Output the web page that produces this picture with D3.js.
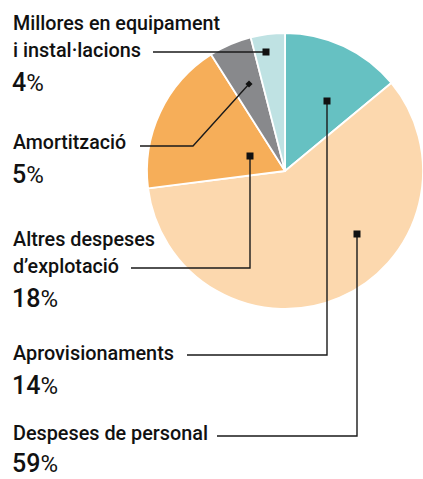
<!DOCTYPE html>
<html>
<head>
<meta charset="utf-8">
<script src="https://cdn.jsdelivr.net/npm/d3@7"></script>
<style>
  body { margin: 0; background: #fff; }
  svg { display: block; }
  text { font-family: Roboto, "Liberation Sans", sans-serif; fill: #111; }
</style>
</head>
<body>
<div id="chart"></div>
<script>

// data, in drawing order (clockwise from 12 o'clock)
var categories = ["Aprovisionaments", "Despeses de personal", "Altres despeses d’explotació", "Amortització", "Millores en equipament i instal·lacions"];
var values     = [14, 59, 18, 5, 4];
var colors     = ["#66c1c2", "#fcd8ae", "#f6ae59", "#88898c", "#bfe2e3"];

// label lines as shown in the legend texts
var labelLines = [
  ["Aprovisionaments"],
  ["Despeses de personal"],
  ["Altres despeses", "d’explotació"],
  ["Amortització"],
  ["Millores en equipament", "i instal·lacions"]
];

var width  = 423;
var height = 479;
var cx = 285, cy = 171, radius = 138;

// annotation layout (first baseline y, widths of label lines, leader path)
var labelLayout = [
  { y: 360, w: [161],      marker: [327, 101], path: [[327, 101], [327, 355], [187, 355]], shape: "square" },
  { y: 440, w: [195],      marker: [357, 234], path: [[357, 234], [357, 436], [217, 436]], shape: "square" },
  { y: 246, w: [142, 106], marker: [250, 156], path: [[250, 156], [250, 268], [131, 268]], shape: "square" },
  { y: 149, w: [113],      marker: [249, 84],  path: [[249, 84], [193, 146], [140, 146]],  shape: "diamond" },
  { y: 30,  w: [207, 128], marker: [266, 52],  path: [[266, 52], [153, 52]],               shape: "square" }
];

var svg = d3.select("#chart").append("svg")
    .attr("width", width)
    .attr("height", height);

var pie = d3.pie().sort(null).value(function(d) { return d; });
var arc = d3.arc().innerRadius(0).outerRadius(radius);

var pieG = svg.append("g").attr("transform", "translate(" + cx + "," + cy + ")");

pieG.selectAll("path.slice")
    .data(pie(values))
    .enter().append("path")
    .attr("class", "slice")
    .attr("d", arc)
    .attr("fill", function(d, i) { return colors[i]; })
    .attr("stroke", "#fff")
    .attr("stroke-width", 1.8)
    .attr("stroke-linejoin", "round");

// leader lines
var line = d3.line();
svg.selectAll("path.leader")
    .data(labelLayout)
    .enter().append("path")
    .attr("class", "leader")
    .attr("d", function(d) { return line(d.path); })
    .attr("fill", "none")
    .attr("stroke", "#1a1a1a")
    .attr("stroke-width", 1.4);

// markers
svg.selectAll("rect.marker")
    .data(labelLayout)
    .enter().append("rect")
    .attr("class", "marker")
    .attr("x", function(d) { return d.marker[0] - (d.shape == "diamond" ? 2.5 : 3.5); })
    .attr("y", function(d) { return d.marker[1] - (d.shape == "diamond" ? 2.5 : 3.5); })
    .attr("width",  function(d) { return d.shape == "diamond" ? 5 : 7; })
    .attr("height", function(d) { return d.shape == "diamond" ? 5 : 7; })
    .attr("transform", function(d) {
      return d.shape == "diamond" ? "rotate(45," + d.marker[0] + "," + d.marker[1] + ")" : null;
    })
    .attr("fill", "#111");

// labels
var lineGap = 27, pctGap = 34, textX = 13;

labelLines.forEach(function(lines, i) {
  var lay = labelLayout[i];
  var gap = (i == 1) ? 32 : pctGap;   // last one sits on the bottom edge
  lines.forEach(function(t, j) {
    svg.append("text")
        .attr("x", textX)
        .attr("y", lay.y + j * lineGap)
        .attr("font-size", 21)
        .attr("font-weight", 500)
        .attr("textLength", lay.w[j])
        .attr("lengthAdjust", "spacingAndGlyphs")
        .text(t);
  });
  var pct = svg.append("text")
      .attr("x", textX - 1)
      .attr("y", lay.y + (lines.length - 1) * lineGap + gap)
      .attr("font-size", 25);
  pct.append("tspan").attr("font-weight", 500).text(values[i]);
  pct.append("tspan").attr("font-weight", 400).attr("font-size", 24).text("%");
});

</script>
</body>
</html>
